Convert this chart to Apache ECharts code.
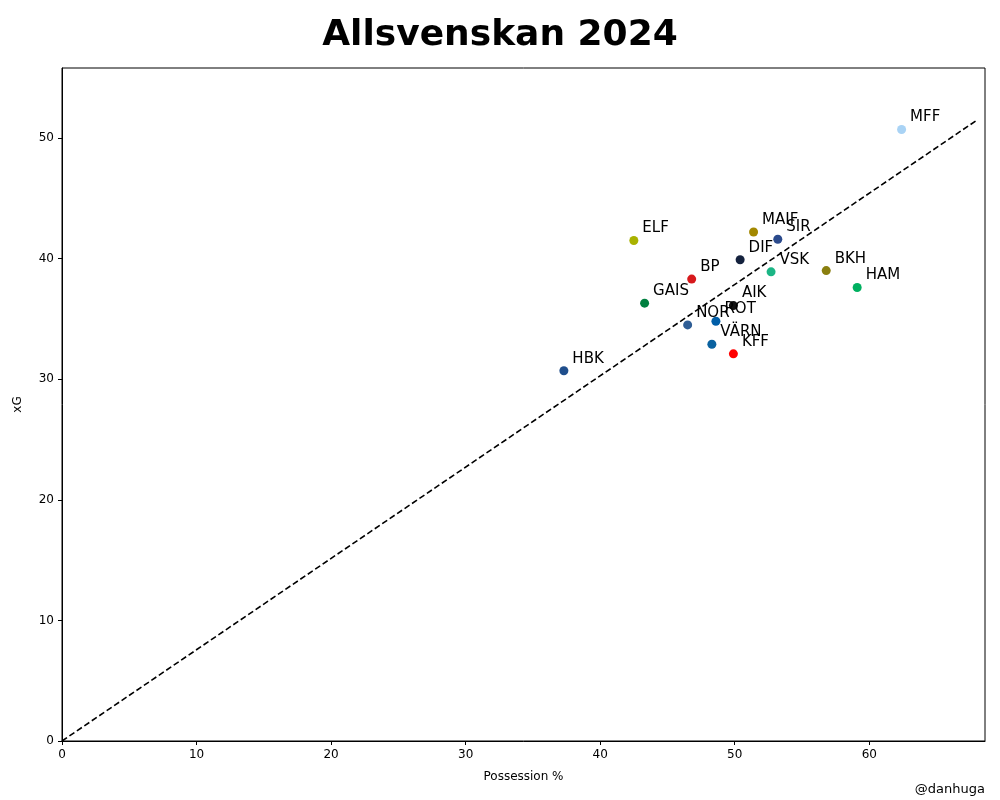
<!DOCTYPE html>
<html>
<head>
<meta charset="UTF-8">
<title>Allsvenskan 2024</title>
<script src="https://cdn.jsdelivr.net/npm/echarts@6/dist/echarts.min.js"></script>
<style>
    html, body { margin: 0; padding: 0; background: #fff; }
    #chart { width: 1000px; height: 800px; }
</style>
</head>
<body>
<div id="chart"></div>
<script>
    // lag, bollinnehav, xG och farger
    var teams = ['MFF', 'ELF', 'MAIF', 'SIR', 'DIF', 'BP', 'VSK', 'BKH', 'HAM', 'GAIS', 'AIK', 'NOR', 'ROT', 'VÄRN', 'KFF', 'HBK'];
    var possession = [62.4, 42.5, 51.4, 53.2, 50.4, 46.8, 52.7, 56.8, 59.1, 43.3, 49.9, 46.5, 48.6, 48.3, 49.9, 37.3];
    var xg = [50.7, 41.5, 42.2, 41.6, 39.9, 38.3, 38.9, 39.0, 37.6, 36.3, 36.1, 34.5, 34.8, 32.9, 32.1, 30.7];
    var colors = ['#a9d3f5', '#a9b200', '#a38800', '#2b4a8c', '#14213d', '#d7191c', '#1bb585', '#8a7f10', '#00b060', '#008040', '#111111', '#2e5d95', '#005ea8', '#0a62a0', '#ff0000', '#1f4e8c'];
    var lineX = [0, 68];
    var lineSlope = 0.757;

    var points = teams.map(function (t, i) {
        return { name: t, value: [possession[i], xg[i]], itemStyle: { color: colors[i], opacity: 1 } };
    });

    var chart = echarts.init(document.getElementById('chart'));
    chart.setOption({
        animation: false,
        title: {
            text: 'Allsvenskan 2024',
            left: 'center',
            top: 13,
            textStyle: { fontSize: 36, fontWeight: 'bold', color: '#000', fontFamily: 'DejaVu Sans' }
        },
        graphic: [{
            type: 'text', right: 15, top: 783,
            style: { text: '@danhuga', fontSize: 13, fill: '#000', fontFamily: 'DejaVu Sans' }
        }],
        grid: { left: 62, right: 15, top: 68, bottom: 59, show: true, borderColor: '#000', borderWidth: 1 },
        xAxis: {
            type: 'value', min: 0, max: 68.6, interval: 10,
            name: 'Possession %', nameLocation: 'middle', nameGap: 30,
            nameTextStyle: { fontSize: 12, color: '#000', fontFamily: 'DejaVu Sans' },
            axisLine: { lineStyle: { color: '#000' } },
            axisTick: { lineStyle: { color: '#000' }, length: 4 },
            axisLabel: { color: '#000', fontSize: 12, showMaxLabel: false, fontFamily: 'DejaVu Sans' },
            splitLine: { show: false }
        },
        yAxis: {
            type: 'value', min: 0, max: 55.8, interval: 10,
            name: 'xG', nameLocation: 'middle', nameGap: 38,
            nameTextStyle: { fontSize: 12, color: '#000', fontFamily: 'DejaVu Sans' },
            axisLine: { show: true, lineStyle: { color: '#000' } },
            axisTick: { show: true, lineStyle: { color: '#000' }, length: 4 },
            axisLabel: { color: '#000', fontSize: 12, showMaxLabel: false, fontFamily: 'DejaVu Sans' },
            splitLine: { show: false }
        },
        series: [
            {
                type: 'line',
                data: lineX.map(function (x) { return [x, x * lineSlope]; }),
                symbol: 'none',
                lineStyle: { color: '#000', type: [6, 3], width: 1.6 },
                z: 1
            },
            {
                type: 'scatter',
                data: points,
                symbolSize: 9,
                label: {
                    show: true,
                    formatter: '{b}',
                    position: 'right',
                    offset: [1, -12],
                    distance: 3,
                    fontSize: 15,
                    color: '#000',
                    fontFamily: 'DejaVu Sans'
                },
                z: 3
            }
        ]
    });
</script>
</body>
</html>
